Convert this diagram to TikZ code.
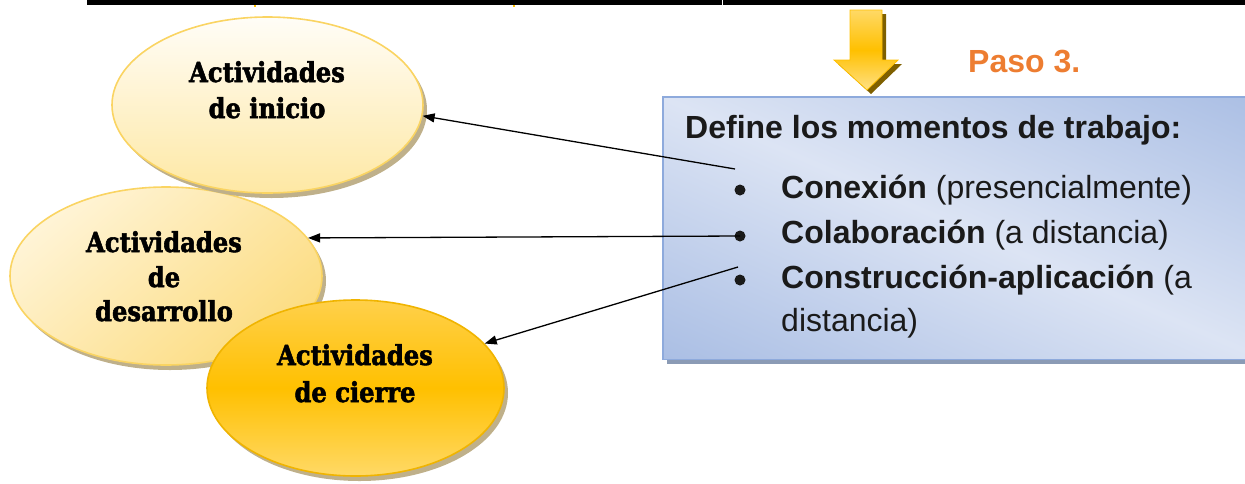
\documentclass[tikz,border=0pt]{standalone}
\usepackage{fontspec}
\setmainfont{Liberation Sans}
\newfontfamily\ellfont[UprightFont={* Bold}, FakeStretch=0.88, FakeBold=2]{DejaVu Serif}
\usetikzlibrary{shadows,arrows.meta,shapes.geometric}
\definecolor{eOneTop}{HTML}{FFFDF7}
\definecolor{eOneBot}{HTML}{FEE8A4}
\definecolor{eBorder}{HTML}{FAD462}
\definecolor{eTwoLight}{HTML}{FFF4D6}
\definecolor{eTwoDark}{HTML}{FCDC80}
\definecolor{eThreeTop}{HTML}{FFD04A}
\definecolor{eThreeMid}{HTML}{FFC000}
\definecolor{eThreeBot}{HTML}{FFD966}
\definecolor{eThreeBorder}{HTML}{F0B400}
\definecolor{ellShadow}{HTML}{BFB08A}
\definecolor{boxDark}{HTML}{8EA9DB}
\definecolor{boxLight}{HTML}{DCE4F4}
\definecolor{boxBorder}{HTML}{8EAADC}
\definecolor{boxShadow}{HTML}{8B9BB5}
\definecolor{pasoOrange}{HTML}{ED7D31}
\definecolor{arrowLight}{HTML}{FFD966}
\definecolor{arrowMid}{HTML}{FFC000}
\definecolor{arrowShadow}{HTML}{7F6000}
\definecolor{boxText}{HTML}{1A1A1A}
\pgfdeclareverticalshading{boxshade}{100bp}{color(0bp)=(boxDark); color(23bp)=(boxDark); color(50bp)=(boxLight); color(77bp)=(boxDark); color(100bp)=(boxDark)}
\begin{document}
\begin{tikzpicture}[x=1pt,y=-1pt,
  ell/.style={ellipse, line width=1.6pt, inner sep=0pt,
    drop shadow={shadow xshift=4pt, shadow yshift=-5pt, fill=ellShadow, opacity=1}},
  elltext/.style={font=\ellfont\fontsize{27.5}{33}\selectfont, text=black, anchor=base, inner sep=0pt},
  conn/.style={line width=1.3pt, -{Triangle[length=12pt,width=9pt]}},
  boxtext/.style={font=\fontsize{32}{38}\selectfont, anchor=base west, inner sep=0pt, text=boxText},
  bulletmark/.style={circle, fill=boxText, inner sep=0pt, minimum size=11pt},
]
\useasboundingbox (0,0) rectangle (1245,483);

% top rule
\fill[black] (87,0) rectangle (1245,4.5);
\fill[white] (721.5,0) rectangle (722.5,4.5);
\fill[arrowMid] (254,4.5) rectangle (256,7);
\fill[arrowMid] (513,4.5) rectangle (515,7);

% ellipses
\node[ell, draw=eBorder, minimum width=312pt, minimum height=178pt,
  top color=eTwoLight, bottom color=eTwoDark, shading angle=40] (e2) at (166,276) {};
\node[ell, draw=eBorder, minimum width=311pt, minimum height=176pt,
  top color=eOneTop, bottom color=eOneBot] (e1) at (267.5,105) {};
\node[ell, draw=eThreeBorder, minimum width=297pt, minimum height=176pt,
  top color=eThreeTop, bottom color=eThreeBot, middle color=eThreeMid] (e3) at (355.5,388) {};

\node[elltext] (t1a) at (267,82) {Actividades};
\node[elltext] (t1b) at (267,118) {de inicio};
\node[elltext] (t2a) at (164,252) {Actividades};
\node[elltext] (t2b) at (164,287) {de};
\node[elltext] (t2c) at (164,321) {desarrollo};
\node[elltext] (t3a) at (355,365) {Actividades};
\node[elltext] (t3b) at (355,402) {de cierre};

% down arrow
\draw[draw=arrowMid, line width=0.8pt, top color=arrowLight, bottom color=arrowLight!80, middle color=arrowMid,
  drop shadow={shadow xshift=4pt, shadow yshift=-4pt, fill=arrowShadow, opacity=1}]
  (850,10) -- (882,10) -- (882,60) -- (898,60) -- (867,90) -- (834,60) -- (850,60) -- cycle;

\node[font=\bfseries\fontsize{32}{38}\selectfont, text=pasoOrange, anchor=base west, inner sep=0pt] (paso) at (968,72) {Paso 3.};

% box
\node[rectangle, draw=boxBorder, line width=1.5pt, anchor=north west, inner sep=0pt,
  minimum width=600pt, minimum height=261pt, fill=boxLight,
  drop shadow={shadow xshift=3pt, shadow yshift=-5pt, fill=boxShadow, opacity=1}] (box) at (663,97) {};
\begin{scope}
  \clip (box.south west) rectangle (box.north east);
  \shade[shading=boxshade, shading angle=-23.5] ([shift={(-350,-350)}]box.center) rectangle ([shift={(350,350)}]box.center);
\end{scope}
\draw[draw=boxBorder, line width=1.5pt] (box.south west) rectangle (box.north east);

\node[boxtext, font=\bfseries\fontsize{32}{38}\selectfont] (title) at (685,138) {Define los momentos de trabajo:};
\node[bulletmark] (b1) at (740,190) {};
\node[bulletmark] (b2) at (740,236) {};
\node[bulletmark] (b3) at (740,280) {};
\node[boxtext] (l1) at (781,198) {\textbf{Conexión} (presencialmente)};
\node[boxtext] (l2) at (781,243) {\textbf{Colaboración} (a distancia)};
\node[boxtext] (l3) at (781,288) {\textbf{Construcción-aplicación} (a};
\node[boxtext] (l4) at (781,331) {distancia)};

% connectors
\coordinate (s1) at (735,169);
\coordinate (s3) at (738,267);
\draw[conn] (s1) -- (e1.-4);
\draw[conn] (b2.center) -- (e2.15);
\draw[conn] (s3) -- (e3.19);
\end{tikzpicture}
\end{document}
